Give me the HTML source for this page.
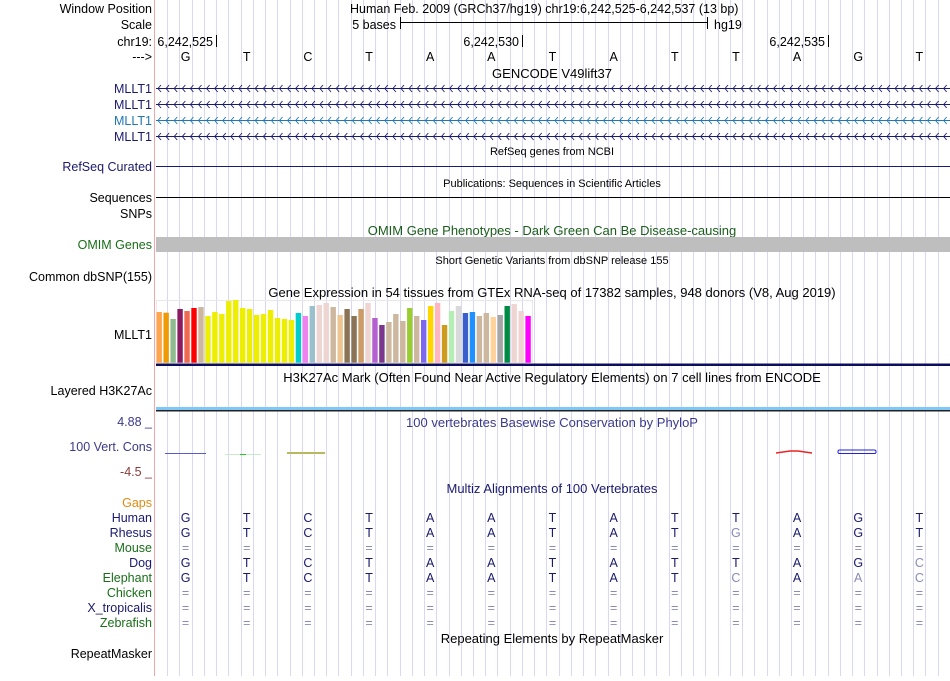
<!DOCTYPE html>
<html><head><meta charset="utf-8"><style>
body{margin:0;width:950px;height:676px;background:#fff;overflow:hidden;font-family:"Liberation Sans",sans-serif}
svg text{font-family:"Liberation Sans",sans-serif}
</style></head><body>
<svg id="c" width="950" height="676" xmlns="http://www.w3.org/2000/svg">
<g id="grid"></g>
<line x1="154.5" y1="0" x2="154.5" y2="676" stroke="#f4a6a6"/>
<g id="labels" font-size="12.5" text-anchor="end"></g>
<g id="main"></g>
</svg>
<script>
const bases=["G","T","C","T","A","A","T","A","T","T","A","G","T"];
const gtexHeights=[50.7,50,43.7,53.7,51.7,54.7,55.7,46.7,50.7,48.7,61.7,62.7,54.7,53.7,47.7,48.7,52.7,44.7,43.7,42.7,49.7,46.7,56.7,57.7,59.7,55.7,47.7,53.7,46.7,53.7,59.7,44.7,37.7,40.7,48.7,41.7,54.7,46.7,42.7,56.7,59.7,37.7,51.7,56.7,49.7,50.7,46.7,49.7,45.7,47.7,56.7,58.7,51.7,46.7];
const gtexColors=["#ffa54f","#ee9a00","#8fbc8f","#8b1c62","#ee6a50","#ff0000","#cdb79e","#eeee00","#eeee00","#eeee00","#eeee00","#eeee00","#eeee00","#eeee00","#eeee00","#eeee00","#eeee00","#eeee00","#eeee00","#eeee00","#00cdcd","#ee82ee","#9ac0cd","#eed5d2","#eed5d2","#cdb79e","#eec591","#8b7355","#8b7355","#cd9b65","#eed5d2","#b460d0","#7a378b","#cdb79e","#cdb79e","#cdb79e","#9acd32","#cdb79e","#7b68ee","#ffd700","#ffb6c1","#cd9b1d","#b4eeb4","#d9d9d9","#3a5fcd","#1e90ff","#cdb79e","#cdb79e","#ffd39b","#a6a6a6","#008b45","#eed5d2","#eed5d2","#ff00ff"];
const species=["Human","Rhesus","Mouse","Dog","Elephant","Chicken","X_tropicalis","Zebrafish"];
const speciesColors=["#1a1a6e","#1a1a6e","#1a6e1a","#1a1a6e","#1a6e1a","#1a6e1a","#1a1a6e","#1a6e1a"];
const alignRows=["GTCTAATATTAGT","GTCTAATATGAGT","=============","GTCTAATATTAGC","GTCTAATATCAAC","=============","=============","============="];
const humanSeq="GTCTAATATTAGT";
const NS="http://www.w3.org/2000/svg";
const X0=155,BW=61.15;
const bx=i=>X0+BW*i+BW/2;
function mk(tag,attrs,parent,txt){const e=document.createElementNS(NS,tag);for(const k in attrs)e.setAttribute(k,attrs[k]);if(txt!==undefined)e.textContent=txt;parent.appendChild(e);return e;}
const grid=document.getElementById('grid'),L=document.getElementById('labels'),M=document.getElementById('main');
for(let k=1;k<66;k++){const x=Math.round(X0+k*BW/5)+0.5;const l=mk('line',{x1:x,y1:0,x2:x,y2:676,stroke:'#d8d8f4'},grid);

}
function lab(y,t,c){const e=mk('text',{x:152,y:y,fill:c||'#000'},L,t);

return e;}
function ttl(y,t,c,fs){const e=mk('text',{x:552,y:y,'text-anchor':'middle','font-size':fs||13,fill:c||'#000'},M,t);

return e;}
lab(13,"Window Position");lab(29,"Scale");lab(46,"chr19:");lab(61,"--->");
mk('text',{x:350,y:13,'font-size':12.5},M,"Human Feb. 2009 (GRCh37/hg19)   chr19:6,242,525-6,242,537 (13 bp)");
mk('text',{x:396,y:29,'font-size':12.5,'text-anchor':'end'},M,"5 bases");
mk('line',{x1:400.5,y1:22.5,x2:707.5,y2:22.5,stroke:'#000'},M);
mk('line',{x1:400.5,y1:17,x2:400.5,y2:29,stroke:'#000'},M);mk('line',{x1:707.5,y1:17,x2:707.5,y2:29,stroke:'#000'},M);
mk('text',{x:714,y:29,'font-size':12.5},M,"hg19");
[["6,242,525",0],["6,242,530",5],["6,242,535",10]].forEach(([t,i])=>{const xe=Math.round(X0+BW*i+BW);mk('text',{x:xe-3,y:46,'font-size':12.5,'text-anchor':'end'},M,t);mk('line',{x1:xe+0.5,y1:35,x2:xe+0.5,y2:47,stroke:'#000'},M);});
bases.forEach((b,i)=>{const e=mk('text',{x:bx(i),y:61,'font-size':12.5,'text-anchor':'middle'},M,b);

});
ttl(78,"GENCODE V49lift37");
[[88,'#1a1a6e'],[104,'#1a1a6e'],[120,'#1f77b4'],[136,'#1a1a6e']].forEach(([y,c])=>{lab(y+5,"MLLT1",c);
const g=mk('g',{},M);


mk('line',{x1:156,y1:y+0.5,x2:950,y2:y+0.5,stroke:c},g);
for(let x=158;x<950;x+=8.1)mk('path',{d:`M${x+3},${y-3} L${x},${y+0.5} L${x+3},${y+4}`,stroke:c,fill:'none','stroke-width':0.9},g);});
ttl(155,"RefSeq genes from NCBI",'#000',11);
lab(171,"RefSeq Curated",'#1a1a6e');mk('line',{x1:156,y1:166.5,x2:950,y2:166.5,stroke:'#1a1a6e'},M);
ttl(187,"Publications: Sequences in Scientific Articles",'#000',11);
lab(202,"Sequences");mk('line',{x1:156,y1:197.5,x2:950,y2:197.5,stroke:'#000'},M);
lab(218,"SNPs");
ttl(235,"OMIM Gene Phenotypes - Dark Green Can Be Disease-causing",'#1a5e1a');
lab(249,"OMIM Genes",'#1a6e1a');
const om=mk('rect',{x:156,y:237,width:794,height:15,fill:'#bebebe'},M);


ttl(264,"Short Genetic Variants from dbSNP release 155",'#000',11);
lab(281,"Common dbSNP(155)");
ttl(297,"Gene Expression in 54 tissues from GTEx RNA-seq of 17382 samples, 948 donors (V8, Aug 2019)");
lab(339,"MLLT1");
mk('rect',{x:156.5,y:300.5,width:376,height:62,fill:'none',stroke:'#e8e8e8'},M);
const base=362.7,pitch=6.96;
gtexHeights.forEach((h,i)=>{const r=mk('rect',{x:156.5+i*pitch,y:0,width:5.4,height:h,fill:gtexColors[i]},M);
r.setAttribute('y',base-h);

});
mk('rect',{x:156,y:363.5,width:794,height:2.5,fill:'#0d0d5e'},M);
ttl(382,"H3K27Ac Mark (Often Found Near Active Regulatory Elements) on 7 cell lines from ENCODE");
lab(395,"Layered H3K27Ac");
mk('rect',{x:156,y:407,width:794,height:3,fill:'#7ec8f8'},M);
mk('rect',{x:156,y:410,width:794,height:1.5,fill:'#222'},M);
mk('text',{x:152,y:426,'font-size':12.5,'text-anchor':'end',fill:'#3a3a8a'},L,"4.88 _");
lab(451,"100 Vert. Cons",'#3a3a8a');
mk('text',{x:152,y:476,'font-size':12.5,'text-anchor':'end',fill:'#8a3a3a'},L,"-4.5 _");
ttl(427,"100 vertebrates Basewise Conservation by PhyloP",'#3a3a8a');
mk('line',{x1:165,y1:453.5,x2:206,y2:453.5,stroke:'#5a5ac8'},M);
mk('line',{x1:225,y1:454.5,x2:261,y2:454.5,stroke:'#c8ecc8'},M);mk('line',{x1:240,y1:454.5,x2:246,y2:454.5,stroke:'#2c2'},M);
mk('line',{x1:287,y1:453,x2:325,y2:453,stroke:'#b8b860','stroke-width':2},M);
mk('path',{d:'M776,453 L790,451 L798,451 L812,453',stroke:'#e22',fill:'none','stroke-width':1.5},M);
mk('rect',{x:838,y:450,width:38,height:3.5,fill:'none',stroke:'#22d',rx:1.5},M);
lab(507,"Gaps",'#e08a10');
ttl(493,"Multiz Alignments of 100 Vertebrates",'#1a1a6e');
species.forEach((s,r)=>{const y=522+r*15;lab(y,s,speciesColors[r]);
alignRows[r].split('').forEach((ch,i)=>{let c='#1a1a6e';if(ch==='=')c='#8a8ab8';else if(r>0&&ch!==humanSeq[i])c='#8a8ab8';
const t=mk('text',{x:bx(i),y:y,'font-size':12.5,'text-anchor':'middle',fill:c},M,ch);

});});
ttl(643,"Repeating Elements by RepeatMasker");
lab(658,"RepeatMasker");
</script>
</body></html>
